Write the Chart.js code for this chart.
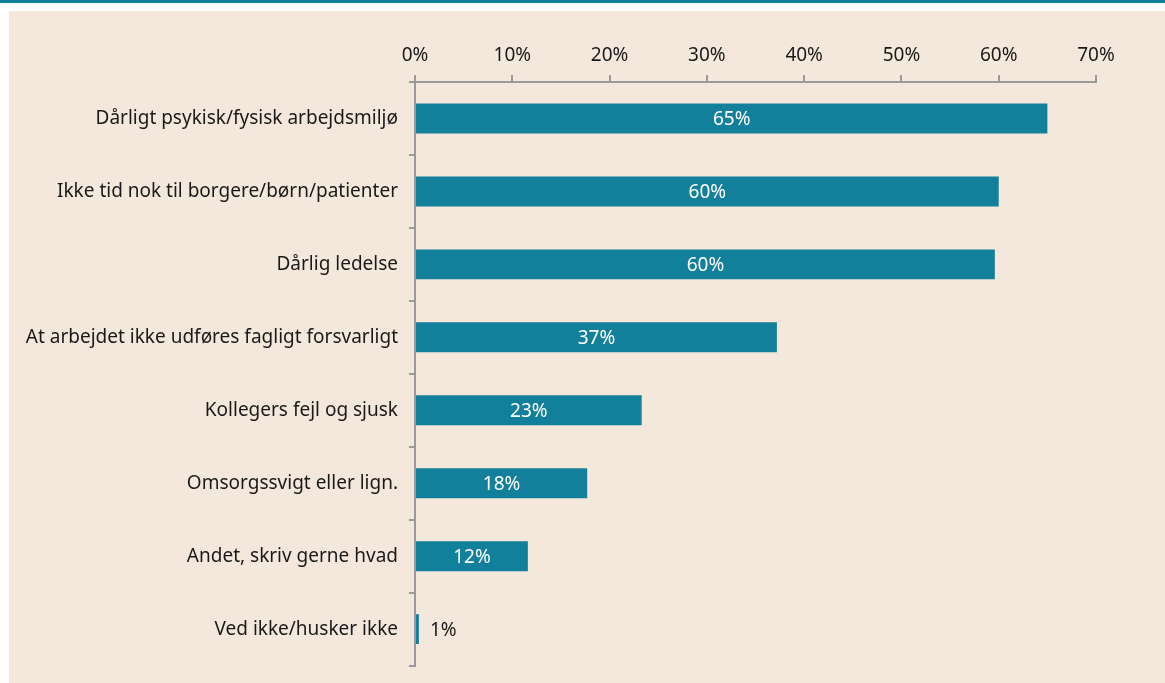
<!DOCTYPE html>
<html>
<head>
<meta charset="utf-8">
<script src="https://cdn.jsdelivr.net/npm/chart.js@4/dist/chart.umd.min.js"></script>
<style>
  html, body { margin: 0; padding: 0; background: #ffffff; overflow: hidden; }
  #topline { position: absolute; left: 0; top: 0; width: 1165px; height: 3px; background: #127f9b; }
  #panel { position: absolute; left: 9px; top: 11px; width: 1156px; height: 672px; background: #f4e8dc; overflow: hidden; }
</style>
</head>
<body>
<div id="topline"></div>
<div id="panel"><canvas id="chart" width="1156" height="677"></canvas></div>
<script>
const categories = [
  "Dårligt psykisk/fysisk arbejdsmiljø",
  "Ikke tid nok til borgere/børn/patienter",
  "Dårlig ledelse",
  "At arbejdet ikke udføres fagligt forsvarligt",
  "Kollegers fejl og sjusk",
  "Omsorgssvigt eller lign.",
  "Andet, skriv gerne hvad",
  "Ved ikke/husker ikke",
];
const values = [65.0, 60.0, 59.6, 37.2, 23.3, 17.7, 11.6, 0.4];
const valueLabels = ["65%", "60%", "60%", "37%", "23%", "18%", "12%", "1%"];
const xTicks = [0, 10, 20, 30, 40, 50, 60, 70];

const barColor = "#127f9b";
const fontFamily = "'Noto Sans', 'Open Sans', sans-serif";

// draws the percentages on/next to the bars
const valueLabelPlugin = {
  id: "valueLabels",
  afterDatasetsDraw(chart) {
    const ctx = chart.ctx;
    const meta = chart.getDatasetMeta(0);
    ctx.save();
    ctx.font = "19px " + fontFamily;
    ctx.textBaseline = "middle";
    meta.data.forEach((bar, i) => {
      const text = valueLabels[i];
      const w = bar.x - bar.base;
      if (w > 40) {
        ctx.fillStyle = "#ffffff";
        ctx.textAlign = "center";
        ctx.fillText(text, bar.base + w / 2, bar.y + 1);
      } else {
        ctx.fillStyle = "#1a1a1a";
        ctx.textAlign = "left";
        ctx.fillText(text, bar.x + 11, bar.y + 1);
      }
    });
    ctx.restore();
  },
};

const ctx = document.getElementById("chart").getContext("2d");
const chart = new Chart(ctx, {
  type: "bar",
  data: {
    labels: categories,
    datasets: [
      {
        data: values,
        backgroundColor: barColor,
        borderWidth: 0,
        barPercentage: 0.41,
        categoryPercentage: 1.0,
      },
    ],
  },
  options: {
    indexAxis: "y",
    responsive: false,
    animation: false,
    layout: { padding: { top: 0, left: 0, right: 69, bottom: 12 } },
    plugins: {
      legend: { display: false },
      tooltip: { enabled: false },
    },
    scales: {
      x: {
        position: "top",
        min: 0,
        max: 70,
        afterBuildTicks(axis) {
          axis.ticks = xTicks.map((v) => ({ value: v }));
        },
        afterFit(axis) {
          axis.height = 71;
        },
        ticks: {
          callback: (v) => v + "%",
          color: "#1a1a1a",
          font: { family: fontFamily, size: 19 },
          padding: 8,
        },
        grid: {
          drawOnChartArea: false,
          drawTicks: true,
          tickLength: 7,
          color: "#9a9a9a",
          lineWidth: 2,
        },
        border: { color: "#9a9a9a", width: 2 },
      },
      y: {
        afterFit(axis) {
          axis.width = 406;
        },
        ticks: {
          color: "#1a1a1a",
          font: { family: fontFamily, size: 19 },
          padding: 11,
        },
        grid: {
          drawOnChartArea: false,
          drawTicks: true,
          tickLength: 6,
          color: "#9a9a9a",
          lineWidth: 2,
          offset: true,
        },
        border: { color: "#9a9a9a", width: 2 },
      },
    },
  },
  plugins: [valueLabelPlugin],
});
</script>
</body>
</html>
